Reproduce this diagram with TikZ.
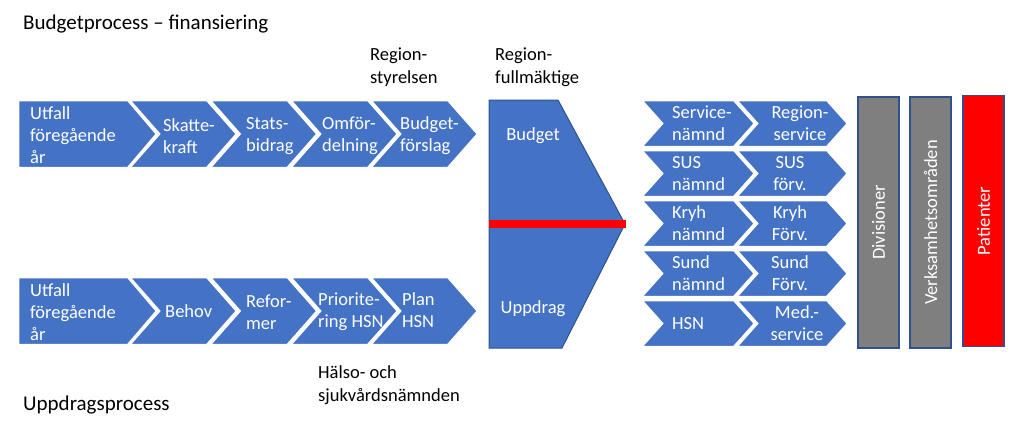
\documentclass[tikz,border=0pt]{standalone}
\usepackage{fontspec}
\setmainfont{Carlito}
\definecolor{obl}{HTML}{4472C4}
\definecolor{odk}{HTML}{2F528F}
\definecolor{ogr}{HTML}{7F7F7F}
\definecolor{ored}{HTML}{FF0000}
\newcommand\mychev[5]{\path[chevshape] (#1,#2) -- ++(#5-#4,0) -- ++(#4,#3/2) -- ++(-#4,#3/2) -- ++(#4-#5,0) -- ++(#4,-#3/2) -- cycle;}
\tikzset{
  chevshape/.style={fill=obl, draw=white, line width=2.5pt, line join=miter},
  wtxt/.style={text=white, inner sep=0pt, align=left, anchor=west, font=\fontsize{18.5}{22}\selectfont},
  ctxt/.style={text=white, inner sep=0pt, align=center, font=\fontsize{18.5}{22}\selectfont},
  btxt/.style={text=black, inner sep=0pt, align=left, anchor=west, font=\fontsize{18.5}{23}\selectfont},
  htxt/.style={text=black, inner sep=0pt, anchor=west, font=\fontsize{21}{24}\selectfont},
  bar/.style={rotate=90, minimum width=251pt, minimum height=41pt, inner sep=0pt, draw=odk, line width=1.2pt, text=white, font=\fontsize{18.5}{22}\selectfont},
}
\begin{document}
\begin{tikzpicture}[x=1pt, y=-1pt]
\useasboundingbox (0,0) rectangle (1024,429);

% headings
\node[htxt] (h1) at (23,24) {Budgetprocess -- finansiering};
\node[htxt] (h2) at (23,405) {Uppdragsprocess};
\node[btxt] (rs) at (370,67) {Region-\\styrelsen};
\node[btxt] (rf) at (495,67) {Region-\\fullmäktige};
\node[btxt] (hs) at (318,385) {Hälso- och\\sjukvårdsnämnden};

% top row
\path[chevshape] (18,100) -- (128,100) -- (157,134) -- (128,168) -- (18,168) -- cycle;
\mychev{129}{100}{68}{30}{108}
\mychev{209.5}{100}{68}{30}{108}
\mychev{290}{100}{68}{30}{108}
\mychev{370}{100}{68}{30}{108}
\node[wtxt] (t1) at (30,135) {Utfall\\föregående\\år};
\node[wtxt] (t2) at (163,136) {Skatte-\\kraft};
\node[wtxt] (t3) at (246,136) {Stats-\\bidrag};
\node[wtxt] (t4) at (322,136) {Omför-\\delning};
\node[wtxt] (t5) at (400,136) {Budget-\\förslag};

% bottom row
\path[chevshape] (18,277) -- (128,277) -- (157,311) -- (128,345) -- (18,345) -- cycle;
\mychev{129}{277}{68}{30}{108}
\mychev{209.5}{277}{68}{30}{108}
\mychev{290}{277}{68}{30}{108}
\mychev{370}{277}{68}{30}{108}
\node[wtxt] (b1) at (30,312) {Utfall\\föregående\\år};
\node[wtxt] (b2) at (165,311) {Behov};
\node[wtxt] (b3) at (246,312) {Refor-\\mer};
\node[wtxt] (b4) at (318,312) {Priorite-\\ring HSN};
\node[wtxt] (b5) at (402,310) {Plan\\HSN};

% big shape
\path[fill=obl, draw=odk, line width=1pt] (489,100) -- (558,100) -- (625,224) -- (562,348) -- (489,348) -- cycle;
\coordinate (rl) at (489,224);
\coordinate (rr) at (626,224);
\draw[ored, line width=8pt] (rl) -- (rr);
\node[ctxt] (bud) at (533,136) {Budget};
\node[ctxt] (upp) at (533,309) {Uppdrag};

% right chevrons
\foreach \t in {100,150,200,250,300}{
  \mychev{641}{\t}{47}{21}{114}
  \mychev{736}{\t}{47}{21}{112}
}
\node[wtxt] (r1a) at (672,123.5) {Service-\\nämnd};
\node[wtxt] (r2a) at (672,173.5) {SUS\\nämnd};
\node[wtxt] (r3a) at (672,223.5) {Kryh\\nämnd};
\node[wtxt] (r4a) at (672,273.5) {Sund\\nämnd};
\node[wtxt] (r5a) at (672,323.5) {HSN};
\node[ctxt] (r1b) at (800,123.5) {Region-\\service};
\node[ctxt] (r2b) at (790,173.5) {SUS\\förv.};
\node[ctxt] (r3b) at (790,223.5) {Kryh\\Förv.};
\node[ctxt] (r4b) at (790,273.5) {Sund\\Förv.};
\node[ctxt] (r5b) at (797,323.5) {Med.-\\service};

% bars
\node[bar, fill=ogr] (div) at (878.5,222.5) {Divisioner};
\node[bar, fill=ogr] (vo) at (930.5,222.5) {Verksamhetsområden};
\node[bar, fill=ored] (pat) at (983.5,221) {Patienter};
\end{tikzpicture}
\end{document}
